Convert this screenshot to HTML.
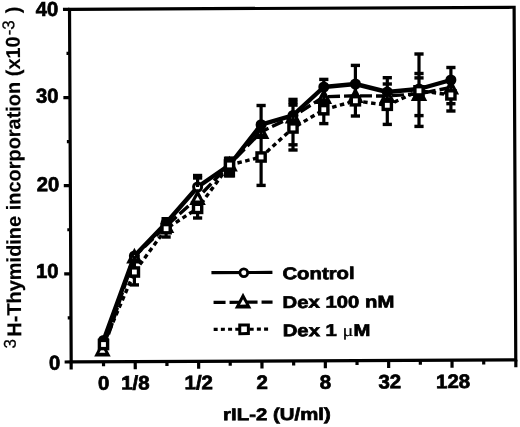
<!DOCTYPE html>
<html><head><meta charset="utf-8"><style>
html,body{margin:0;padding:0;background:#fff;width:520px;height:427px;overflow:hidden}
svg{display:block;filter:grayscale(100%)}
text{font-family:"Liberation Sans",sans-serif;font-weight:bold;fill:#000;stroke:#000;stroke-width:0.7px}
.sup{font-size:17px;font-weight:normal;stroke-width:0.3px}
.mu{font-family:"Liberation Serif",serif;font-weight:normal;stroke-width:0.2px}
</style></head><body>
<svg width="520" height="427" viewBox="0 0 520 427">
<polyline points="103.5,344.5 134.4,272.0 166.1,228.7 197.6,208.4 229.5,165.0 261.1,157.0 293.0,128.0 323.8,109.8 355.4,100.8 387.3,105.3 419.0,90.8 450.9,94.9" fill="none" stroke="#000" stroke-width="3.4" stroke-dasharray="4.5 3.5"/>
<polyline points="103.5,349.5 134.4,256.5 166.1,226.0 197.6,197.8 229.5,164.5 261.1,131.9 293.0,116.5 323.8,96.8 355.4,95.8 387.3,96.0 419.0,93.8 450.9,87.5" fill="none" stroke="#000" stroke-width="3.4" stroke-dasharray="12 4"/>
<polyline points="103.5,340.5 134.4,256.0 166.1,223.0 197.6,187.0 229.5,165.0 261.1,124.7 293.0,115.4 323.8,87.0 355.4,84.0 387.3,92.0 419.0,89.0 450.9,80.0" fill="none" stroke="#000" stroke-width="4.4" stroke-linejoin="round"/>
<circle cx="103.5" cy="340.5" r="5.5" fill="#000"/><circle cx="103.5" cy="340.5" r="1.0" fill="#fff"/>
<circle cx="134.4" cy="256.0" r="5.5" fill="#000"/><circle cx="134.4" cy="256.0" r="1.0" fill="#fff"/>
<circle cx="166.1" cy="223.0" r="5.5" fill="#000"/><circle cx="166.1" cy="223.0" r="1.0" fill="#fff"/>
<circle cx="197.6" cy="187.0" r="5.5" fill="#000"/><circle cx="197.6" cy="187.0" r="2.5" fill="#fff"/>
<circle cx="229.5" cy="165.0" r="5.5" fill="#000"/><circle cx="229.5" cy="165.0" r="1.0" fill="#fff"/>
<circle cx="261.1" cy="124.7" r="5.5" fill="#000"/><circle cx="261.1" cy="124.7" r="1.0" fill="#fff"/>
<circle cx="293.0" cy="115.4" r="5.5" fill="#000"/><circle cx="293.0" cy="115.4" r="1.0" fill="#fff"/>
<circle cx="323.8" cy="87.0" r="5.5" fill="#000"/><circle cx="323.8" cy="87.0" r="1.0" fill="#fff"/>
<circle cx="355.4" cy="84.0" r="5.5" fill="#000"/><circle cx="355.4" cy="84.0" r="1.0" fill="#fff"/>
<circle cx="387.3" cy="92.0" r="5.5" fill="#000"/><circle cx="387.3" cy="92.0" r="1.0" fill="#fff"/>
<circle cx="419.0" cy="89.0" r="5.5" fill="#000"/><circle cx="419.0" cy="89.0" r="1.0" fill="#fff"/>
<circle cx="450.9" cy="80.0" r="5.5" fill="#000"/><circle cx="450.9" cy="80.0" r="1.0" fill="#fff"/>
<rect x="223.9" y="156.6" width="11.2" height="21" fill="#000"/>
<path d="M102.4,340.8L110.7,356.6L94.2,356.6Z" fill="#000"/><path d="M102.4,347.3L105.4,352.7L99.4,352.7Z" fill="#fff"/>
<path d="M134.4,247.8L142.7,263.6L126.2,263.6Z" fill="#000"/><path d="M134.4,255.1L136.4,258.5L132.4,258.5Z" fill="#fff"/>
<path d="M166.1,217.3L174.3,233.1L157.8,233.1Z" fill="#000"/><path d="M166.1,224.6L168.1,228.0L164.1,228.0Z" fill="#fff"/>
<path d="M197.6,189.1L205.8,204.9L189.3,204.9Z" fill="#000"/><path d="M197.6,196.0L200.1,200.4L195.1,200.4Z" fill="#fff"/>
<path d="M229.5,155.8L237.8,171.6L221.2,171.6Z" fill="#000"/><path d="M229.5,163.1L231.5,166.5L227.5,166.5Z" fill="#fff"/>
<path d="M261.1,123.2L269.4,139.0L252.9,139.0Z" fill="#000"/><path d="M261.1,130.5L263.1,133.9L259.1,133.9Z" fill="#fff"/>
<path d="M293.0,107.8L301.2,123.6L284.8,123.6Z" fill="#000"/><path d="M293.0,115.1L295.0,118.5L291.0,118.5Z" fill="#fff"/>
<path d="M323.8,88.1L332.1,103.9L315.6,103.9Z" fill="#000"/><path d="M323.8,95.4L325.8,98.8L321.8,98.8Z" fill="#fff"/>
<path d="M355.4,87.1L363.6,102.9L347.1,102.9Z" fill="#000"/><path d="M355.4,94.4L357.4,97.8L353.4,97.8Z" fill="#fff"/>
<path d="M387.3,87.3L395.6,103.1L379.1,103.1Z" fill="#000"/><path d="M387.3,94.6L389.3,98.0L385.3,98.0Z" fill="#fff"/>
<path d="M419.0,85.1L427.2,100.9L410.8,100.9Z" fill="#000"/><path d="M419.0,92.4L421.0,95.8L417.0,95.8Z" fill="#fff"/>
<path d="M450.9,78.8L459.1,94.6L442.6,94.6Z" fill="#000"/><path d="M450.9,86.1L452.9,89.5L448.9,89.5Z" fill="#fff"/>
<line x1="134.4" y1="256.0" x2="134.4" y2="284.9" stroke="#000" stroke-width="3.2"/>
<rect x="129.8" y="283.2" width="9.2" height="3.4" fill="#000"/>
<line x1="166.1" y1="218.7" x2="166.1" y2="237.0" stroke="#000" stroke-width="3.2"/>
<rect x="161.5" y="217.0" width="9.2" height="3.4" fill="#000"/>
<rect x="161.5" y="235.3" width="9.2" height="3.4" fill="#000"/>
<line x1="229.5" y1="158.3" x2="229.5" y2="175.6" stroke="#000" stroke-width="3.2"/>
<rect x="224.9" y="156.6" width="9.2" height="3.4" fill="#000"/>
<rect x="224.9" y="173.9" width="9.2" height="3.4" fill="#000"/>
<line x1="197.6" y1="175.5" x2="197.6" y2="187.0" stroke="#000" stroke-width="3.2"/>
<line x1="197.6" y1="208.4" x2="197.6" y2="218.0" stroke="#000" stroke-width="3.2"/>
<rect x="193.0" y="173.8" width="9.2" height="3.4" fill="#000"/>
<rect x="193.0" y="176.3" width="9.2" height="3.4" fill="#000"/>
<rect x="193.0" y="216.3" width="9.2" height="3.4" fill="#000"/>
<line x1="261.1" y1="105.5" x2="261.1" y2="185.4" stroke="#000" stroke-width="3.2"/>
<rect x="256.5" y="103.8" width="9.2" height="3.4" fill="#000"/>
<rect x="256.5" y="183.7" width="9.2" height="3.4" fill="#000"/>
<line x1="293.0" y1="99.4" x2="293.0" y2="150.0" stroke="#000" stroke-width="3.2"/>
<rect x="288.4" y="97.7" width="9.2" height="3.4" fill="#000"/>
<rect x="288.4" y="100.7" width="9.2" height="3.4" fill="#000"/>
<rect x="288.4" y="103.4" width="9.2" height="3.4" fill="#000"/>
<rect x="288.4" y="143.1" width="9.2" height="3.4" fill="#000"/>
<rect x="288.4" y="148.3" width="9.2" height="3.4" fill="#000"/>
<line x1="323.8" y1="79.4" x2="323.8" y2="123.6" stroke="#000" stroke-width="3.2"/>
<rect x="319.2" y="77.7" width="9.2" height="3.4" fill="#000"/>
<rect x="319.2" y="121.9" width="9.2" height="3.4" fill="#000"/>
<line x1="355.4" y1="65.4" x2="355.4" y2="116.0" stroke="#000" stroke-width="3.2"/>
<rect x="350.8" y="63.7" width="9.2" height="3.4" fill="#000"/>
<rect x="350.8" y="114.3" width="9.2" height="3.4" fill="#000"/>
<line x1="387.3" y1="77.7" x2="387.3" y2="124.4" stroke="#000" stroke-width="3.2"/>
<rect x="382.7" y="76.0" width="9.2" height="3.4" fill="#000"/>
<rect x="382.7" y="82.3" width="9.2" height="3.4" fill="#000"/>
<rect x="382.7" y="122.7" width="9.2" height="3.4" fill="#000"/>
<line x1="419.0" y1="54.0" x2="419.0" y2="126.4" stroke="#000" stroke-width="3.2"/>
<rect x="414.4" y="52.3" width="9.2" height="3.4" fill="#000"/>
<rect x="414.4" y="71.8" width="9.2" height="3.4" fill="#000"/>
<rect x="414.4" y="76.2" width="9.2" height="3.4" fill="#000"/>
<rect x="414.4" y="113.9" width="9.2" height="3.4" fill="#000"/>
<rect x="414.4" y="124.7" width="9.2" height="3.4" fill="#000"/>
<line x1="450.9" y1="67.5" x2="450.9" y2="111.0" stroke="#000" stroke-width="3.2"/>
<rect x="446.3" y="65.8" width="9.2" height="3.4" fill="#000"/>
<rect x="446.3" y="102.0" width="9.2" height="3.4" fill="#000"/>
<rect x="446.3" y="109.3" width="9.2" height="3.4" fill="#000"/>
<rect x="97.7" y="338.7" width="11.6" height="11.6" fill="#000"/><rect x="101.1" y="342.1" width="4.8" height="4.8" fill="#fff"/>
<rect x="128.6" y="266.2" width="11.6" height="11.6" fill="#000"/><rect x="132.0" y="269.6" width="4.8" height="4.8" fill="#fff"/>
<rect x="160.3" y="222.9" width="11.6" height="11.6" fill="#000"/><rect x="163.7" y="226.3" width="4.8" height="4.8" fill="#fff"/>
<rect x="191.8" y="202.6" width="11.6" height="11.6" fill="#000"/><rect x="195.2" y="206.0" width="4.8" height="4.8" fill="#fff"/>
<rect x="223.7" y="159.2" width="11.6" height="11.6" fill="#000"/><rect x="227.1" y="162.6" width="4.8" height="4.8" fill="#fff"/>
<rect x="255.3" y="151.2" width="11.6" height="11.6" fill="#000"/><rect x="258.7" y="154.6" width="4.8" height="4.8" fill="#fff"/>
<rect x="287.2" y="122.2" width="11.6" height="11.6" fill="#000"/><rect x="290.6" y="125.6" width="4.8" height="4.8" fill="#fff"/>
<rect x="318.0" y="104.0" width="11.6" height="11.6" fill="#000"/><rect x="321.4" y="107.3" width="4.8" height="4.8" fill="#fff"/>
<rect x="349.6" y="95.0" width="11.6" height="11.6" fill="#000"/><rect x="353.0" y="98.4" width="4.8" height="4.8" fill="#fff"/>
<rect x="381.5" y="99.5" width="11.6" height="11.6" fill="#000"/><rect x="384.9" y="102.9" width="4.8" height="4.8" fill="#fff"/>
<rect x="413.2" y="85.0" width="11.6" height="11.6" fill="#000"/><rect x="416.6" y="88.4" width="4.8" height="4.8" fill="#fff"/>
<rect x="445.1" y="89.1" width="11.6" height="11.6" fill="#000"/><rect x="448.5" y="92.5" width="4.8" height="4.8" fill="#fff"/>
<g transform="rotate(-0.27 293 185)">
<rect x="70.35" y="8.3" width="444.60" height="352.60" fill="none" stroke="#000" stroke-width="3.2"/>
<line x1="63.8" y1="360.9" x2="70.3" y2="360.9" stroke="#000" stroke-width="3.2"/>
<line x1="67.1" y1="316.8" x2="70.3" y2="316.8" stroke="#000" stroke-width="3.2"/>
<line x1="63.8" y1="272.8" x2="70.3" y2="272.8" stroke="#000" stroke-width="3.2"/>
<line x1="67.1" y1="228.7" x2="70.3" y2="228.7" stroke="#000" stroke-width="3.2"/>
<line x1="63.8" y1="184.6" x2="70.3" y2="184.6" stroke="#000" stroke-width="3.2"/>
<line x1="67.1" y1="140.5" x2="70.3" y2="140.5" stroke="#000" stroke-width="3.2"/>
<line x1="63.8" y1="96.5" x2="70.3" y2="96.5" stroke="#000" stroke-width="3.2"/>
<line x1="67.1" y1="52.4" x2="70.3" y2="52.4" stroke="#000" stroke-width="3.2"/>
<line x1="63.8" y1="8.3" x2="70.3" y2="8.3" stroke="#000" stroke-width="3.2"/>
<line x1="70.3" y1="360.9" x2="70.3" y2="368.4" stroke="#000" stroke-width="3.2"/>
<line x1="515.0" y1="360.9" x2="515.0" y2="368.4" stroke="#000" stroke-width="3.2"/>
<line x1="102.7" y1="360.9" x2="102.7" y2="365.4" stroke="#000" stroke-width="3.2"/>
<line x1="134.4" y1="360.9" x2="134.4" y2="368.4" stroke="#000" stroke-width="3.2"/>
<line x1="166.1" y1="360.9" x2="166.1" y2="365.4" stroke="#000" stroke-width="3.2"/>
<line x1="197.8" y1="360.9" x2="197.8" y2="368.4" stroke="#000" stroke-width="3.2"/>
<line x1="229.4" y1="360.9" x2="229.4" y2="365.4" stroke="#000" stroke-width="3.2"/>
<line x1="261.1" y1="360.9" x2="261.1" y2="368.4" stroke="#000" stroke-width="3.2"/>
<line x1="292.8" y1="360.9" x2="292.8" y2="365.4" stroke="#000" stroke-width="3.2"/>
<line x1="324.5" y1="360.9" x2="324.5" y2="368.4" stroke="#000" stroke-width="3.2"/>
<line x1="356.2" y1="360.9" x2="356.2" y2="365.4" stroke="#000" stroke-width="3.2"/>
<line x1="387.8" y1="360.9" x2="387.8" y2="368.4" stroke="#000" stroke-width="3.2"/>
<line x1="419.5" y1="360.9" x2="419.5" y2="365.4" stroke="#000" stroke-width="3.2"/>
<line x1="451.2" y1="360.9" x2="451.2" y2="368.4" stroke="#000" stroke-width="3.2"/>
<line x1="482.9" y1="360.9" x2="482.9" y2="365.4" stroke="#000" stroke-width="3.2"/>
<g transform="translate(59.30,368.60) scale(1.0,1)"><text x="0" y="0" text-anchor="end" style="font-size:20.3px" class="">0</text></g>
<g transform="translate(58.20,276.90) scale(1.0,1)"><text x="0" y="0" text-anchor="end" style="font-size:20.3px" class="">10</text></g>
<g transform="translate(59.20,190.10) scale(1.0,1)"><text x="0" y="0" text-anchor="end" style="font-size:20.3px" class="">20</text></g>
<g transform="translate(58.90,101.50) scale(1.0,1)"><text x="0" y="0" text-anchor="end" style="font-size:20.3px" class="">30</text></g>
<g transform="translate(59.00,14.80) scale(1.0,1)"><text x="0" y="0" text-anchor="end" style="font-size:20.3px" class="">40</text></g>
<g transform="translate(102.72,388.80) scale(1.05,1)"><text x="0" y="0" text-anchor="middle" style="font-size:19.5px" class="">0</text></g>
<g transform="translate(134.40,388.80) scale(1.05,1)"><text x="0" y="0" text-anchor="middle" style="font-size:19.5px" class="">1/8</text></g>
<g transform="translate(197.76,388.80) scale(1.05,1)"><text x="0" y="0" text-anchor="middle" style="font-size:19.5px" class="">1/2</text></g>
<g transform="translate(261.12,388.80) scale(1.05,1)"><text x="0" y="0" text-anchor="middle" style="font-size:19.5px" class="">2</text></g>
<g transform="translate(324.48,388.80) scale(1.05,1)"><text x="0" y="0" text-anchor="middle" style="font-size:19.5px" class="">8</text></g>
<g transform="translate(388.84,388.80) scale(1.05,1)"><text x="0" y="0" text-anchor="middle" style="font-size:19.5px" class="">32</text></g>
<g transform="translate(452.20,388.80) scale(1.05,1)"><text x="0" y="0" text-anchor="middle" style="font-size:19.5px" class="">128</text></g>

<line x1="211" y1="272.3" x2="272" y2="272.3" stroke="#000" stroke-width="3.2"/>
<circle cx="243.4" cy="272.5" r="5.3" fill="#000"/><circle cx="243.4" cy="272.5" r="2.5" fill="#fff"/>
<line x1="213" y1="302" x2="272" y2="302" stroke="#000" stroke-width="3.2" stroke-dasharray="12 4"/>
<path d="M242.5,292.5L250.8,308.3L234.2,308.3Z" fill="#000"/><path d="M242.5,299.0L245.5,304.4L239.5,304.4Z" fill="#fff"/>
<line x1="213" y1="329" x2="268.2" y2="329" stroke="#000" stroke-width="3.1" stroke-dasharray="4 3.2"/>
<rect x="237.6" y="323.3" width="11.6" height="11.6" fill="#000"/><rect x="240.6" y="326.3" width="5.6" height="5.6" fill="#fff"/>
<g transform="translate(282.00,279.30) scale(1.195,1)"><text x="0" y="0" text-anchor="start" style="font-size:17px" class="">Control</text></g>
<g transform="translate(282.00,307.90) scale(1.195,1)"><text x="0" y="0" text-anchor="start" style="font-size:17px" class="">Dex 100 nM</text></g>
<g transform="translate(282.00,336.20) scale(1.195,1)"><text x="0" y="0" text-anchor="start" style="font-size:17px" class="">Dex 1 <tspan class="mu">&#956;</tspan>M</text></g>

<g transform="translate(20.5,347.2) rotate(-90) scale(0.998,1)"><text x="0" y="0" style="font-size:20px;stroke-width:0.15px"><tspan class="sup" dy="-5.5">3</tspan><tspan dy="5.5" dx="2.4">H-Thymidine incorporation (x10</tspan><tspan class="sup" dy="-5.5" dx="1">-3</tspan><tspan dy="5.5" dx="1.4"> )</tspan></text></g>
<g transform="translate(275.80,420.00) scale(1.2,1)"><text x="0" y="0" text-anchor="middle" style="font-size:17px" class="">rIL-2 (U/ml)</text></g>
</g>
</svg>
</body></html>
